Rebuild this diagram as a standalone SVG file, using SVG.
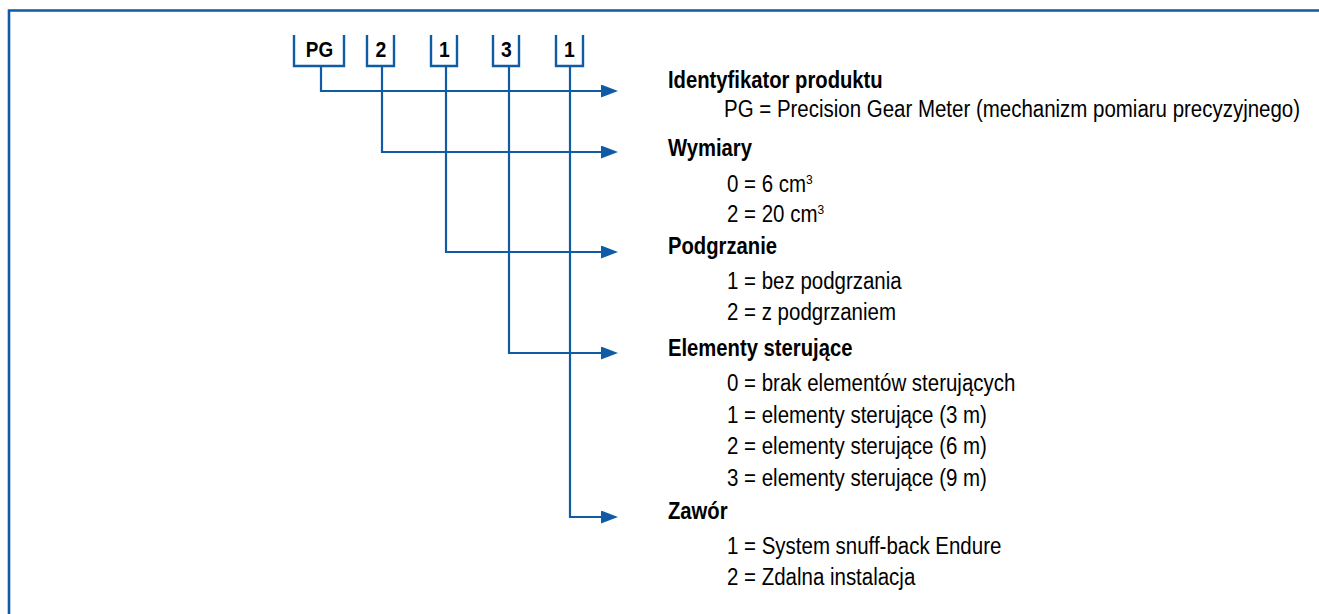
<svg xmlns="http://www.w3.org/2000/svg" width="1319" height="614" viewBox="0 0 1319 614">
<style>
.frame{fill:none;stroke:#0f5ba5;stroke-width:2.6}
.box{fill:none;stroke:#0f5ba5;stroke-width:2.4}
.conn{fill:none;stroke:#0f5ba5;stroke-width:2.2}
text{font-family:"Liberation Sans",Arial,sans-serif;fill:#000}
.code{font-size:21.5px;font-weight:bold;text-anchor:middle}
.h{font-size:23px;font-weight:bold}
.v{font-size:23px}
.sup{font-size:13.5px}
</style>
<defs>
<marker id="arr" viewBox="0 0 17 13" refX="2" refY="6.5" markerWidth="17" markerHeight="13" markerUnits="userSpaceOnUse" orient="auto">
<path d="M0,0 L17,6.5 L0,13 z" fill="#0f5ba5"/>
</marker>
</defs>
<rect width="1319" height="614" fill="#fff"/>
<path class="frame" d="M9,614 V10.5 H1319"/>

<g id="code-pg"><path class="box" d="M294,35 V66 H344 V35"/><text class="code" transform="translate(319.5,57) scale(0.88,1)">PG</text></g>
<g id="code-2"><path class="box" d="M367,35 V66 H394 V35"/><text class="code" transform="translate(381,57) scale(0.9,1)">2</text></g>
<g id="code-1a"><path class="box" d="M431,35 V66 H457 V35"/><text class="code" transform="translate(444.5,57) scale(0.9,1)">1</text></g>
<g id="code-3"><path class="box" d="M493,35 V66 H519 V35"/><text class="code" transform="translate(506.5,57) scale(0.9,1)">3</text></g>
<g id="code-1b"><path class="box" d="M556,35 V66 H583 V35"/><text class="code" transform="translate(569.5,57) scale(0.9,1)">1</text></g>

<g id="connectors">
<path class="conn" d="M321,66 V91 H603" marker-end="url(#arr)"/>
<path class="conn" d="M382,66 V152 H603" marker-end="url(#arr)"/>
<path class="conn" d="M446,66 V252 H603" marker-end="url(#arr)"/>
<path class="conn" d="M509,66 V353 H603" marker-end="url(#arr)"/>
<path class="conn" d="M570,66 V517 H603" marker-end="url(#arr)"/>
</g>

<g id="sec-id">
<text class="h" transform="translate(668,88) scale(0.88,1)">Identyfikator produktu</text>
<text class="v" transform="translate(724,117) scale(0.89,1)">PG = Precision Gear Meter (mechanizm pomiaru precyzyjnego)</text>
</g>
<g id="sec-wymiary">
<text class="h" transform="translate(668,156) scale(0.88,1)">Wymiary</text>
<text class="v" transform="translate(727,192) scale(0.89,1)">0 = 6 cm<tspan class="sup" dy="-8">3</tspan></text>
<text class="v" transform="translate(727,222) scale(0.89,1)">2 = 20 cm<tspan class="sup" dy="-8">3</tspan></text>
</g>
<g id="sec-podgrzanie">
<text class="h" transform="translate(668,254) scale(0.88,1)">Podgrzanie</text>
<text class="v" transform="translate(727,289) scale(0.89,1)">1 = bez podgrzania</text>
<text class="v" transform="translate(727,320) scale(0.89,1)">2 = z podgrzaniem</text>
</g>
<g id="sec-elementy">
<text class="h" transform="translate(668,356) scale(0.88,1)">Elementy sterujące</text>
<text class="v" transform="translate(727,391) scale(0.89,1)">0 = brak elementów sterujących</text>
<text class="v" transform="translate(727,423) scale(0.89,1)">1 = elementy sterujące (3 m)</text>
<text class="v" transform="translate(727,454) scale(0.89,1)">2 = elementy sterujące (6 m)</text>
<text class="v" transform="translate(727,486) scale(0.89,1)">3 = elementy sterujące (9 m)</text>
</g>
<g id="sec-zawor">
<text class="h" transform="translate(668,519) scale(0.88,1)">Zawór</text>
<text class="v" transform="translate(727,554) scale(0.89,1)">1 = System snuff-back Endure</text>
<text class="v" transform="translate(727,585) scale(0.89,1)">2 = Zdalna instalacja</text>
</g>
</svg>
